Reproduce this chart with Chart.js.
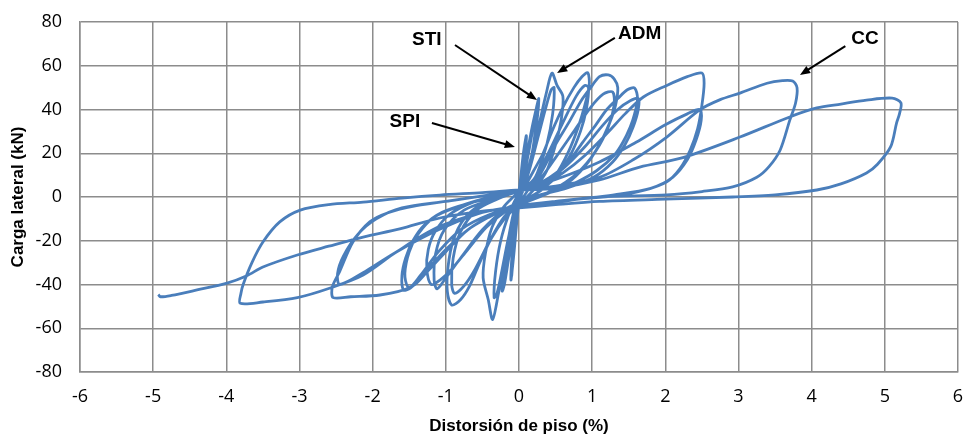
<!DOCTYPE html>
<html>
<head>
<meta charset="utf-8">
<script src="https://cdn.jsdelivr.net/npm/chart.js@4.4.1/dist/chart.umd.min.js"></script>
<style>
html, body { margin: 0; padding: 0; background: #fff; }
</style>
</head>
<body>
<canvas id="hysteresisChart" width="964" height="438"></canvas>
<script>
// [drift (%), lateral load (kN)], one array per amplitude
const cycle1 = [[0,0],[0.02,7],[0.05,15],[0.04,9],[0.01,2],[-0.02,-6],[-0.05,-16],[-0.04,-9],[-0.01,-1],
  [0.02,6],[0.05,14],[0.04,8],[0.01,1],[-0.02,-7],[-0.06,-18],[-0.04,-9],[-0.01,0]];

const cycleSPI = [[0.02,8],[0.06,20],[0.1,28],[0.08,18],[0.03,5],[-0.02,-8],[-0.07,-26],[-0.11,-38],[-0.09,-24],[-0.04,-6],
  [0.02,7],[0.06,19],[0.09,26],[0.07,15],[0.02,3],[-0.03,-10],[-0.08,-28],[-0.1,-36],[-0.07,-18],[-0.02,-2]];

const cycleSTI = [[0.03,6],[0.1,18],[0.18,32],[0.24,41],[0.27,45],[0.25,36],[0.2,24],[0.13,12],[0.05,3],[-0.02,-5],
  [-0.08,-16],[-0.15,-30],[-0.2,-40],[-0.23,-43],[-0.21,-33],[-0.15,-20],[-0.08,-8],[0,1],
  [0.06,8],[0.14,22],[0.21,35],[0.25,42],[0.23,32],[0.17,18],[0.09,6],[0.02,0],[-0.05,-8],[-0.12,-22],
  [-0.18,-35],[-0.21,-41],[-0.19,-30],[-0.12,-15],[-0.05,-4],[0.01,2]];

const cycleADM = [[0.08,8],[0.18,20],[0.28,34],[0.37,47],[0.45,56.6],[0.52,51],[0.6,46],[0.58,36],[0.5,24],[0.38,12],
  [0.22,4],[0.08,-1],[-0.03,-6],[-0.12,-16],[-0.2,-30],[-0.28,-44],[-0.36,-56],[-0.42,-47],[-0.49,-37],[-0.46,-26],
  [-0.37,-14],[-0.22,-5],[-0.08,0],[0.02,3],
  [0.12,10],[0.25,26],[0.36,40],[0.44,49],[0.48,50],[0.46,38],[0.38,24],[0.25,11],[0.1,2],[-0.04,-5],[-0.14,-18],
  [-0.23,-33],[-0.3,-44],[-0.34,-46],[-0.32,-34],[-0.25,-20],[-0.14,-8],[-0.03,0],[0.03,3]];

const cycle10 = [[0.1,6],[0.2,12],[0.33,20],[0.45,30],[0.6,41],[0.75,50],[0.86,55],[0.94,56.8],[0.96,51],[0.9,42],
  [0.81,32],[0.68,21],[0.5,10],[0.3,3],[0.1,-1],[-0.05,-5],[-0.2,-10],[-0.38,-19],[-0.55,-31],[-0.68,-41],[-0.8,-47],
  [-0.92,-49.4],[-0.98,-43],[-0.97,-32],[-0.9,-20],[-0.75,-10],[-0.5,-3],[-0.25,0],[0,3],
  [0.2,8],[0.4,20],[0.6,34],[0.78,46],[0.9,51],[0.95,50],[0.92,40],[0.84,30],[0.7,19],[0.5,9],[0.25,2],[0,-3],
  [-0.2,-9],[-0.4,-20],[-0.6,-33],[-0.76,-41],[-0.88,-44],[-0.92,-40],[-0.9,-28],[-0.8,-16],[-0.58,-6],[-0.3,-1],[0,3]];

const cycle13 = [[0.2,6],[0.35,14],[0.5,24],[0.68,34],[0.85,44],[0.98,50],[1.1,55],[1.22,55.8],[1.3,54],[1.35,50],
  [1.32,42],[1.24,34],[1.1,24],[0.9,14],[0.65,6],[0.35,1],[0.05,-3],[-0.2,-7],[-0.45,-14],[-0.7,-24],[-0.92,-33],
  [-1.08,-38],[-1.2,-40],[-1.26,-33],[-1.24,-24],[-1.15,-16],[-0.95,-8],[-0.6,-2],[-0.25,1],[0,3],
  [0.25,7],[0.5,18],[0.75,30],[0.98,41],[1.15,47],[1.28,48],[1.3,42],[1.22,32],[1.05,21],[0.8,11],[0.45,3],[0.1,-2],
  [-0.2,-6],[-0.5,-15],[-0.8,-28],[-1.0,-37],[-1.12,-42],[-1.16,-38],[-1.14,-26],[-1.02,-15],[-0.75,-6],[-0.35,-1],[0,3]];

const cycle16 = [[0.2,5],[0.42,9],[0.65,15],[0.87,25],[1.05,33],[1.2,40],[1.35,45],[1.48,49],[1.58,49.8],[1.62,45],
  [1.58,38],[1.52,32],[1.42,25],[1.3,19],[1.06,12],[0.8,7],[0.5,3],[0.2,0],[-0.1,-4],[-0.4,-9],[-0.7,-15],[-1.0,-24],
  [-1.22,-32],[-1.4,-39],[-1.5,-42],[-1.58,-42.5],[-1.6,-36],[-1.55,-28],[-1.45,-20],[-1.3,-13],[-1.05,-7],[-0.7,-3],
  [-0.3,0],[0,3],
  [0.3,6],[0.6,13],[0.9,23],[1.15,33],[1.35,40],[1.52,44],[1.63,45],[1.63,40],[1.56,32],[1.45,24],[1.28,16],[1.02,9],
  [0.65,4],[0.3,1],[0,-3],[-0.35,-8],[-0.7,-15],[-1.0,-25],[-1.25,-34],[-1.42,-40],[-1.52,-41],[-1.56,-35],[-1.5,-25],
  [-1.38,-17],[-1.15,-9],[-0.8,-4],[-0.4,0],[0,3]];

const cycle25 = [[0.3,5],[0.6,11],[0.9,19],[1.2,29],[1.45,38],[1.7,45.7],[2.02,51],[2.3,55],[2.5,56.7],[2.53,52],
  [2.5,42],[2.44,31],[2.34,21.5],[2.2,13],[2.02,7],[1.7,3],[1.3,0.5],[0.8,-1],[0.3,-3],[0,-4.5],[-0.4,-8],[-0.8,-15],
  [-1.1,-25],[-1.35,-36],[-1.5,-41.5],[-1.9,-44.8],[-2.3,-45.6],[-2.54,-46],[-2.55,-41],[-2.45,-34],[-2.27,-20.6],
  [-2.04,-11.4],[-1.8,-7.3],[-1.4,-4],[-0.9,-1.5],[-0.4,1],[0,3],
  [0.5,8],[1.1,16],[1.6,25],[2.0,33],[2.3,38],[2.47,40],[2.49,35],[2.42,26],[2.3,17],[2.1,9],[1.8,4],[1.3,1],
  [0.7,-1.5],[0,-4.5],[-0.5,-7],[-1.1,-15],[-1.67,-25],[-2.1,-34],[-2.45,-40],[-2.48,-35],[-2.4,-27],[-2.2,-17],
  [-1.95,-10],[-1.6,-5],[-1.0,-2],[-0.4,1],[0,3]];

const cycle38 = [[0.5,5],[1.1,9],[1.56,17],[2.02,27.4],[2.47,39.8],[2.75,44.5],[3.02,47.5],[3.39,52],[3.6,53.2],
  [3.74,53],[3.8,50],[3.78,43],[3.7,35],[3.57,21.5],[3.42,14],[3.25,9],[2.92,4.6],[2.5,2.5],[2.02,1],[1.1,0],
  [0.5,-2],[0,-4],[-0.5,-7],[-1.12,-14],[-1.67,-25],[-2.13,-35.7],[-2.58,-41.6],[-3.03,-46],[-3.5,-48],[-3.81,-48.6],
  [-3.8,-44],[-3.77,-40],[-3.65,-30],[-3.5,-20.6],[-3.27,-11.4],[-2.99,-6],[-2.6,-3.5],[-2.13,-2.3],[-1.6,-0.5],
  [-1.08,0.9],[-0.5,2],[0,3.2]];

const cycle52 = [[0.5,4],[1.1,7.8],[1.65,13.7],[2.24,18],[3.02,27.4],[3.7,36.6],[4.07,40.7],[4.4,42.5],[4.75,44.3],
  [5.1,45.2],[5.22,43],[5.2,38],[5.16,33.8],[5.08,23],[4.9,15],[4.75,11],[4.4,6],[4.07,3.2],[3.5,1],[2.92,0],
  [2.0,-1],[1.1,-2],[0.5,-3.5],[0,-5],[-0.5,-6.5],[-1.08,-9.6],[-1.63,-14.6],[-2.13,-18.3],[-2.6,-22.5],
  [-3.03,-26.5],[-3.5,-32],[-3.72,-36],[-3.99,-39.4],[-4.4,-42.5],[-4.75,-45],[-4.9,-45.6],[-4.93,-44.6]];

const cycles = [cycle1, cycleSPI, cycleSTI, cycleADM, cycle10, cycle13, cycle16, cycle25, cycle38, cycle52];

const xRange = [-6, 6];
const yRange = [-80, 80];

// callout labels and arrows, in data units
const callouts = [
  { text: 'STI', at: [-1.26, 71.8], from: [-0.875, 69.5], to: [0.246, 44.3] },
  { text: 'ADM', at: [1.65, 74.5], from: [1.31, 72.7], to: [0.52, 56.7] },
  { text: 'CC', at: [4.73, 72.2], from: [4.46, 69], to: [3.84, 55.8] },
  { text: 'SPI', at: [-1.56, 34.3], from: [-1.19, 33.8], to: [-0.055, 22.9] }
];

const points = cycles.flat().map(p => ({ x: p[0], y: p[1] }));

const calloutPlugin = {
  id: 'callouts',
  afterDatasetsDraw(chart) {
    const { ctx } = chart;
    const xs = chart.scales.x, ys = chart.scales.y;
    ctx.save();
    ctx.fillStyle = '#000';
    ctx.strokeStyle = '#000';
    ctx.font = 'bold 19px "Liberation Sans", Arial, sans-serif';
    ctx.textAlign = 'center';
    ctx.textBaseline = 'middle';
    callouts.forEach(c => {
      ctx.fillText(c.text, xs.getPixelForValue(c.at[0]), ys.getPixelForValue(c.at[1]));
      const x0 = xs.getPixelForValue(c.from[0]), y0 = ys.getPixelForValue(c.from[1]);
      const x1 = xs.getPixelForValue(c.to[0]), y1 = ys.getPixelForValue(c.to[1]);
      const a = Math.atan2(y1 - y0, x1 - x0);
      const head = 11;
      ctx.lineWidth = 2;
      ctx.beginPath();
      ctx.moveTo(x0, y0);
      ctx.lineTo(x1 - Math.cos(a) * head * 0.8, y1 - Math.sin(a) * head * 0.8);
      ctx.stroke();
      ctx.beginPath();
      ctx.moveTo(x1, y1);
      ctx.lineTo(x1 - head * Math.cos(a - 0.38), y1 - head * Math.sin(a - 0.38));
      ctx.lineTo(x1 - head * Math.cos(a + 0.38), y1 - head * Math.sin(a + 0.38));
      ctx.closePath();
      ctx.fill();
    });
    ctx.restore();
  }
};

const gridColor = '#8c8c8c';
const tickFont = { family: '"Open Sans", sans-serif', size: 18 };
const titleFont = { family: '"Liberation Sans", Arial, sans-serif', size: 17, weight: 'bold' };

new Chart(document.getElementById('hysteresisChart'), {
  type: 'scatter',
  data: {
    datasets: [{
      data: points,
      showLine: true,
      borderColor: '#4a7ebb',
      borderWidth: 2.8,
      pointRadius: 0,
      tension: 0.3,
      fill: false
    }]
  },
  options: {
    responsive: false,
    animation: false,
    layout: { padding: { top: 22, right: 6, left: 0, bottom: 0 } },
    plugins: { legend: { display: false }, tooltip: { enabled: false } },
    scales: {
      x: {
        type: 'linear',
        min: xRange[0],
        max: xRange[1],
        afterFit(scale) {
          scale.height = 66;
          scale.paddingLeft = 0;
          scale.paddingRight = 0;
        },
        ticks: { stepSize: 1, color: '#000', font: tickFont, padding: 14, maxRotation: 0 },
        grid: { color: gridColor, lineWidth: 1.5, drawTicks: false },
        border: { color: gridColor, width: 1.5 },
        title: { display: true, text: 'Distorsión de piso (%)', color: '#000', font: titleFont, padding: { top: 0, bottom: 1 } }
      },
      y: {
        type: 'linear',
        min: yRange[0],
        max: yRange[1],
        afterFit(scale) {
          scale.width = 80;
          scale.paddingTop = 0;
          scale.paddingBottom = 0;
        },
        ticks: { stepSize: 20, color: '#000', font: tickFont, padding: 18 },
        grid: { color: gridColor, lineWidth: 1.5, drawTicks: false },
        border: { color: gridColor, width: 1.5 },
        title: { display: true, text: 'Carga lateral (kN)', color: '#000', font: titleFont, padding: { top: 8, bottom: 0 } }
      }
    }
  },
  plugins: [calloutPlugin]
});
</script>
</body>
</html>
